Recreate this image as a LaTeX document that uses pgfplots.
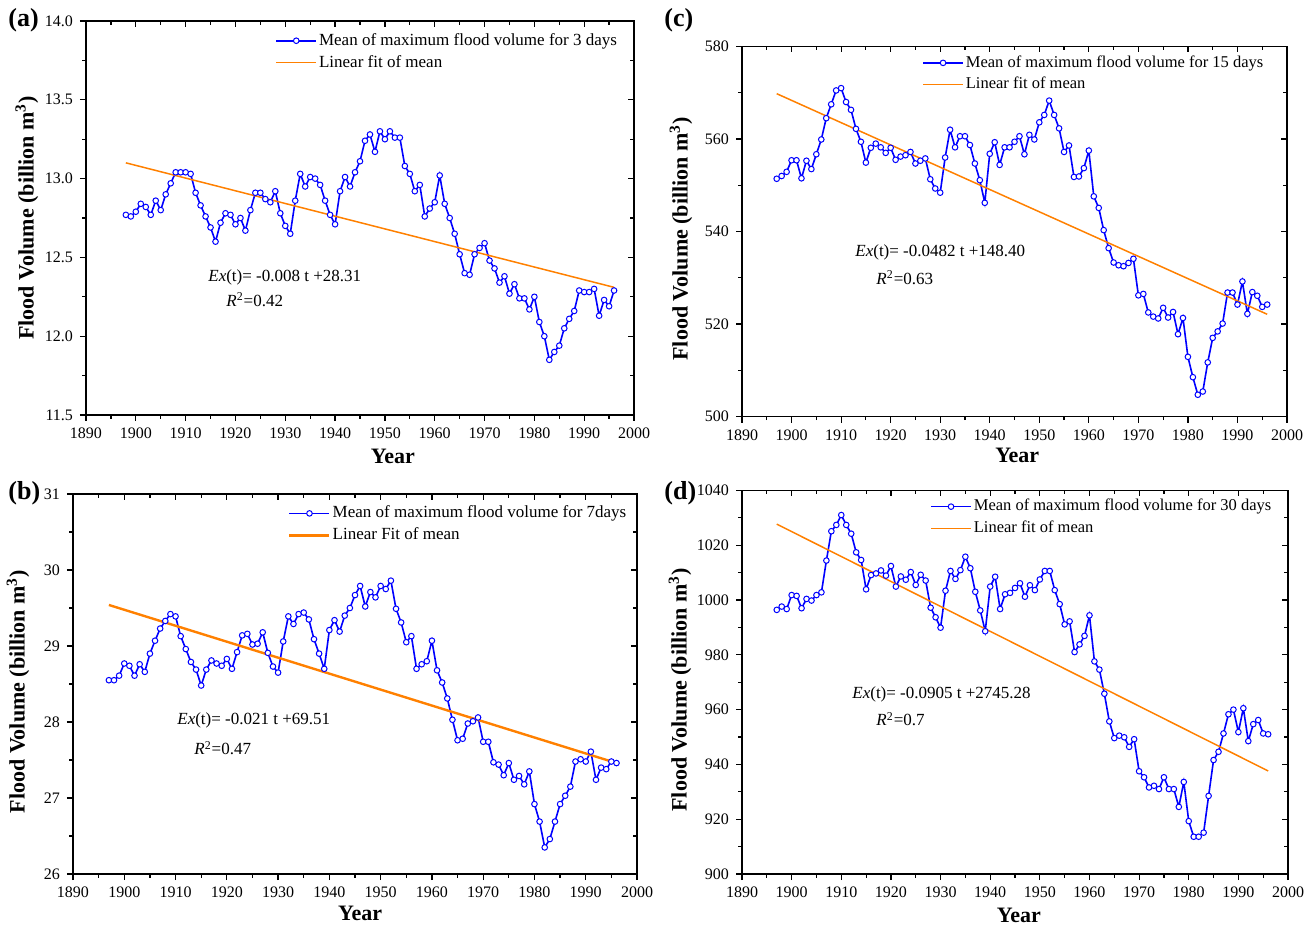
\documentclass[border=0pt]{standalone}
\usepackage{fontspec}
\setmainfont{Liberation Serif}
\usepackage{pgfplots}
\usepackage{pgfplotstable}
\pgfplotsset{compat=1.18}
\definecolor{fitorange}{RGB}{255,128,0}

% year, mean of annual max flood volume for 3, 7, 15, 30 days (billion m3)
\pgfplotstableread{
year a b c d
1897 nan 28.55 551.4 996.4
1898 12.77 28.55 552.0 997.6
1899 12.76 28.61 552.9 996.7
1900 12.79 28.77 555.4 1001.8
1901 12.84 28.74 555.4 1001.5
1902 12.82 28.61 551.5 997.0
1903 12.77 28.76 555.3 1000.4
1904 12.86 28.66 553.5 999.8
1905 12.80 28.90 556.7 1001.8
1906 12.90 29.07 559.9 1002.8
1907 12.97 29.23 564.5 1014.4
1908 13.04 29.33 567.5 1025.1
1909 13.04 29.42 570.5 1027.4
1910 13.04 29.39 571.0 1031.0
1911 13.03 29.13 568.0 1027.4
1912 12.91 28.96 566.3 1024.2
1913 12.83 28.79 562.2 1017.4
1914 12.76 28.69 559.4 1014.6
1915 12.69 28.48 554.9 1003.9
1916 12.60 28.69 558.1 1009.1
1917 12.72 28.81 559.0 1009.7
1918 12.78 28.77 558.2 1010.8
1919 12.77 28.74 557.0 1008.9
1920 12.71 28.83 558.1 1012.4
1921 12.75 28.70 555.5 1004.9
1922 12.67 28.92 556.2 1008.6
1923 12.80 29.14 556.5 1007.4
1924 12.91 29.16 557.2 1010.2
1925 12.91 29.02 554.7 1005.5
1926 12.87 29.03 555.3 1009.2
1927 12.85 29.18 555.8 1007.1
1928 12.92 28.91 551.3 997.2
1929 12.78 28.73 549.3 993.7
1930 12.70 28.65 548.4 989.9
1931 12.65 29.06 556.0 1003.4
1932 12.86 29.39 562.0 1010.6
1933 13.03 29.29 558.2 1007.7
1934 12.95 29.42 560.6 1010.9
1935 13.01 29.44 560.6 1015.8
1936 13.00 29.35 558.7 1011.6
1937 12.96 29.09 554.7 1003.0
1938 12.86 28.90 551.1 996.2
1939 12.77 28.70 546.2 988.6
1940 12.71 29.21 556.8 1004.9
1941 12.92 29.34 559.3 1008.5
1942 13.01 29.19 554.4 996.7
1943 12.95 29.40 558.2 1002.1
1944 13.04 29.50 558.2 1002.6
1945 13.11 29.67 559.4 1004.4
1946 13.24 29.79 560.6 1006.1
1947 13.28 29.52 556.7 1001.2
1948 13.17 29.71 560.9 1005.4
1949 13.30 29.64 559.9 1003.6
1950 13.25 29.79 563.6 1007.5
1951 13.30 29.75 565.2 1010.6
1952 13.26 29.86 568.3 1010.6
1953 13.26 29.49 565.2 1003.6
1954 13.08 29.31 562.3 998.5
1955 13.03 29.05 557.2 991.1
1956 12.92 29.13 558.6 992.2
1957 12.96 28.70 551.8 981.0
1958 12.76 28.76 551.9 983.8
1959 12.81 28.80 553.7 986.9
1960 12.85 29.07 557.5 994.4
1961 13.02 28.68 547.6 977.6
1962 12.84 28.52 545.1 974.6
1963 12.75 28.31 540.3 965.8
1964 12.65 28.03 536.4 955.7
1965 12.52 27.76 533.3 949.6
1966 12.40 27.78 532.7 950.5
1967 12.39 27.98 532.5 949.9
1968 12.52 28.01 533.2 946.4
1969 12.56 28.06 534.1 949.2
1970 12.59 27.74 526.2 937.5
1971 12.48 27.74 526.5 935.3
1972 12.43 27.47 522.5 931.6
1973 12.34 27.44 521.6 932.2
1974 12.38 27.30 521.2 931.0
1975 12.27 27.46 523.5 935.3
1976 12.33 27.24 521.4 931.0
1977 12.24 27.29 522.6 931.0
1978 12.24 27.18 517.8 924.5
1979 12.17 27.35 521.3 933.6
1980 12.25 26.92 512.9 919.3
1981 12.09 26.69 508.5 913.6
1982 12.00 26.35 504.7 913.6
1983 11.85 26.46 505.4 915.1
1984 11.90 26.69 511.7 928.5
1985 11.94 26.92 517.0 941.6
1986 12.05 27.03 518.4 944.6
1987 12.11 27.15 520.1 951.3
1988 12.16 27.48 526.8 958.3
1989 12.29 27.51 526.8 960.0
1990 12.28 27.48 524.2 951.8
1991 12.28 27.61 529.2 960.5
1992 12.30 27.24 522.2 948.5
1993 12.13 27.40 526.9 954.7
1994 12.23 27.38 526.1 956.2
1995 12.19 27.48 523.7 951.3
1996 12.29 27.46 524.2 951.0
}\datatab

\pgfplotsset{
  panel/.style={scale only axis, anchor=south west,
    xmin=1890, xmax=2000, xtick distance=10,
    minor x tick num=1, minor y tick num=1,
    axis line style={line width=0.7pt},
    major tick length=3pt, minor tick length=1.8pt,
    every tick/.append style={line width=0.6pt, black},
    tick label style={font=\fontsize{8}{9}\selectfont},
    /pgf/number format/1000 sep={},
    /pgf/number format/assume math mode=true,
    label style={font=\bfseries\fontsize{11}{12}\selectfont}},
  front/.style={panel, tick align=outside, xtick pos=left, ytick pos=left,
    legend style={draw=none, fill=none, anchor=north west, inner sep=0pt,
      font=\fontsize{8.5}{9}\selectfont, cells={anchor=west},
      nodes={inner sep=1pt}, row sep=1.5pt},
    legend image code/.code={\draw[mark repeat=2, mark phase=2, #1]
      plot coordinates {(0pt,0pt) (10pt,0pt) (20pt,0pt)};}},
  back/.style={panel, tick align=inside, xtick pos=right, ytick pos=right,
    xticklabels={}, yticklabels={}},
  mean/.style={blue, line width=0.8pt, mark=*, mark size=1.4pt,
    mark options={fill=white, draw=blue, line width=0.5pt}},
  fit/.style={fitorange, line width=0.75pt},
  pa/.style={at={(43pt,256pt)}, width=274pt, height=197pt,
    ymin=11.5, ymax=14, ytick distance=0.5,
    yticklabel style={/pgf/number format/.cd, fixed, fixed zerofill, precision=1}},
  pb/.style={at={(36.5pt,26.5pt)}, width=282pt, height=190pt,
    ymin=26, ymax=31, ytick distance=1},
  pc/.style={at={(371pt,255.25pt)}, width=272.5pt, height=185pt,
    ymin=500, ymax=580, ytick distance=20},
  pd/.style={at={(371pt,26.5pt)}, width=273pt, height=191.8pt,
    ymin=900, ymax=1040, ytick distance=20},
}

\begin{document}
\begin{tikzpicture}
\useasboundingbox (0,0) rectangle (657.5pt,463.5pt);

% (a) 3 days
\begin{axis}[front, pa, xlabel={Year}, ylabel={Flood Volume (billion m\textsuperscript{3})},
  xlabel style={at={(axis description cs:0.56,-0.104)}, anchor=center},
  ylabel style={at={(axis description cs:-0.108,0.5)}, anchor=center},
  legend style={at={(axis description cs:0.345,0.975)}}]
\addplot[mean] table[x=year, y=a] {\datatab};
\addlegendentry{Mean of maximum flood volume for 3 days}
\addplot[fit] coordinates {(1898,13.10) (1996,12.31)};
\addlegendentry{Linear fit of mean}
\end{axis}
\begin{axis}[back, pa]\end{axis}

% (b) 7 days
\begin{axis}[front, pb, xlabel={Year}, ylabel={Flood Volume (billion m\textsuperscript{3})},
  xlabel style={at={(axis description cs:0.509,-0.103)}, anchor=center},
  ylabel style={at={(axis description cs:-0.0975,0.48)}, anchor=center},
  legend style={at={(axis description cs:0.381,0.975)}}]
\addplot[mean] table[x=year, y=b] {\datatab};
\addlegendentry{Mean of maximum flood volume for 7days}
\addplot[fit, line width=1.2pt] coordinates {(1897,29.54) (1996,27.46)};
\addlegendentry{Linear Fit of mean}
\end{axis}
\begin{axis}[back, pb]\end{axis}

% (c) 15 days
\begin{axis}[front, pc, xlabel={Year}, ylabel={Flood Volume (billion m\textsuperscript{3})},
  xlabel style={at={(axis description cs:0.505,-0.105)}, anchor=center},
  ylabel style={at={(axis description cs:-0.112,0.48)}, anchor=center},
  legend style={at={(axis description cs:0.330,0.982)}, font=\fontsize{8.25}{9}\selectfont}]
\addplot[mean] table[x=year, y=c] {\datatab};
\addlegendentry{Mean of maximum flood volume for 15 days}
\addplot[fit] coordinates {(1897,569.8) (1996,522.1)};
\addlegendentry{Linear fit of mean}
\end{axis}
\begin{axis}[back, pc]\end{axis}

% (d) 30 days
\begin{axis}[front, pd, xlabel={Year}, ylabel={Flood Volume (billion m\textsuperscript{3})},
  xlabel style={at={(axis description cs:0.507,-0.107)}, anchor=center},
  ylabel style={at={(axis description cs:-0.1136,0.48)}, anchor=center},
  legend style={at={(axis description cs:0.344,0.983)}, font=\fontsize{8.25}{9}\selectfont}]
\addplot[mean] table[x=year, y=d] {\datatab};
\addlegendentry{Mean of maximum flood volume for 30 days}
\addplot[fit] coordinates {(1897,1027.7) (1996,937.6)};
\addlegendentry{Linear fit of mean}
\end{axis}
\begin{axis}[back, pd]\end{axis}

% panel letters
\begin{scope}[every node/.style={anchor=west, inner sep=0pt, font=\bfseries\fontsize{13}{14}\selectfont}]
\node at (4pt,453.5pt) {(a)};
\node at (4pt,217pt) {(b)};
\node at (332pt,453.5pt) {(c)};
\node at (332pt,217pt) {(d)};
\end{scope}

% regression equations
\begin{scope}[every node/.style={anchor=west, inner sep=0pt, font=\fontsize{8.5}{10}\selectfont}]
\node at (104pt,325pt) {\textit{Ex}(t)= -0.008 t +28.31};
\node at (113pt,313.5pt) {\textit{R}\textsuperscript{2}=0.42};
\node at (88.5pt,103.5pt) {\textit{Ex}(t)= -0.021 t +69.51};
\node at (97pt,89.5pt) {\textit{R}\textsuperscript{2}=0.47};
\node at (427.5pt,337.5pt) {\textit{Ex}(t)= -0.0482 t +148.40};
\node at (438pt,324.5pt) {\textit{R}\textsuperscript{2}=0.63};
\node at (426pt,116.5pt) {\textit{Ex}(t)= -0.0905 t +2745.28};
\node at (438pt,104pt) {\textit{R}\textsuperscript{2}=0.7};
\end{scope}
\end{tikzpicture}
\end{document}
